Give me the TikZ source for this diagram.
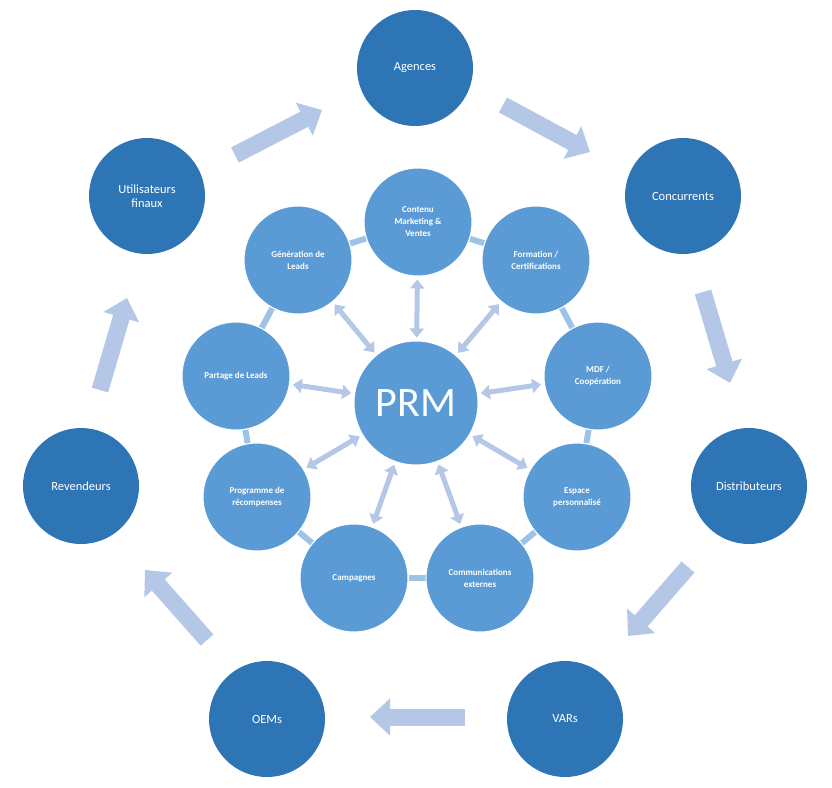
\documentclass[tikz,border=0pt]{standalone}
\usepackage{fontspec}
\setmainfont{Carlito}
\usetikzlibrary{arrows.meta,backgrounds}
\definecolor{outerc}{HTML}{2E75B6}
\definecolor{innerc}{HTML}{5B9BD5}
\definecolor{ringc}{HTML}{9DC3E6}
\definecolor{arrc}{HTML}{B4C7E7}
\begin{document}
\begin{tikzpicture}[x=1pt,y=-1pt,
  outer/.style={circle,fill=outerc,minimum size=116pt,inner sep=0pt,text=white,align=center,font=\fontsize{12.5}{14}\selectfont},
  inner/.style={circle,fill=innerc,draw=white,line width=1pt,minimum size=108pt,inner sep=0pt,text=white,align=center,font=\bfseries\fontsize{9}{12}\selectfont},
  ring/.style={draw=ringc,line width=6pt},
  dbl/.style={draw=arrc,line width=5pt,{Triangle[length=9pt,width=14pt]}-{Triangle[length=9pt,width=14pt]},shorten <=3pt,shorten >=3pt},
  block/.style={draw=arrc,line width=17pt,-{Triangle[length=20pt,width=36pt]}}]
\useasboundingbox (0,0) rectangle (832,787);
\node[outer] (ag) at (415,68) {Agences};
\node[outer] (co) at (683,196) {Concurrents};
\node[outer] (di) at (749,486) {Distributeurs};
\node[outer] (va) at (565,719) {VARs};
\node[outer] (oe) at (267,719) {OEMs};
\node[outer] (re) at (81,486) {Revendeurs};
\node[outer] (ut) at (147,196) {Utilisateurs\\finaux};
\node[inner,minimum size=124pt] (prm) at (416,403) {\mdseries\fontsize{42}{42}\selectfont PRM};
\node[inner] (cm) at (418,222) {Contenu\\Marketing \&\\Ventes};
\node[inner] (fc) at (536,260) {Formation /\\Certifications};
\node[inner] (md) at (598,376) {MDF /\\Coopération};
\node[inner] (ep) at (577,497) {Espace\\personnalisé};
\node[inner] (ce) at (480,578) {Communications\\externes};
\node[inner] (ca) at (354,578) {Campagnes};
\node[inner] (pr) at (257,497) {Programme de\\récompenses};
\node[inner] (pl) at (236,376) {Partage de Leads};
\node[inner] (gl) at (298,260) {Génération de\\Leads};
\begin{scope}[on background layer]
\foreach \a/\b in {cm/fc,fc/md,md/ep,ep/ce,ce/ca,ca/pr,pr/pl,pl/gl,gl/cm}
  \draw[ring] (\a) -- (\b);
\end{scope}
\foreach \n in {cm,fc,md,ep,ce,ca,pr,pl,gl}
  \draw[dbl] (prm) -- (\n);
\coordinate (a1) at (235,155); \coordinate (b1) at (322,110);
\coordinate (a2) at (503,105); \coordinate (b2) at (590,152);
\coordinate (a3) at (703,292); \coordinate (b3) at (730,383);
\coordinate (a4) at (688,567); \coordinate (b4) at (628,636);
\coordinate (a5) at (465,717); \coordinate (b5) at (370,717);
\coordinate (a6) at (207,640); \coordinate (b6) at (145,570);
\coordinate (a7) at (100,390); \coordinate (b7) at (127,298);
\foreach \i in {1,...,7} \draw[block] (a\i) -- (b\i);
\end{tikzpicture}
\end{document}
